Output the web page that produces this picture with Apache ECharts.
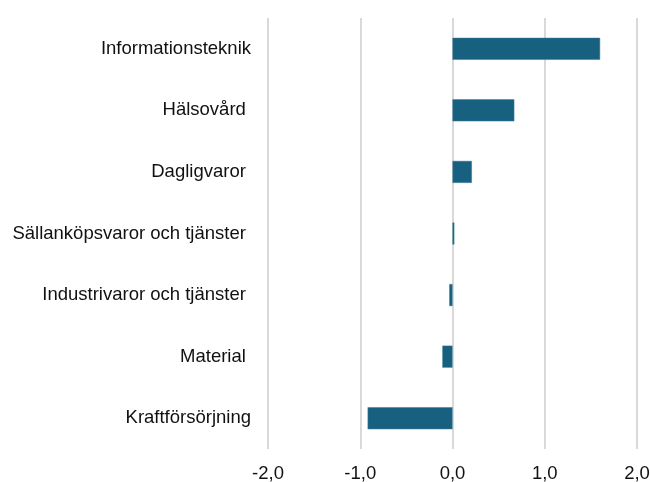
<!DOCTYPE html>
<html><head><meta charset="utf-8">
<script src="https://cdn.jsdelivr.net/npm/echarts@6/dist/echarts.min.js"></script>
<style>html,body{margin:0;padding:0;background:#fff}#c{width:650px;height:482px}</style>
</head><body><div id="c"></div>
<script>
var categories = ["Informationsteknik", "Hälsovård ", "Dagligvaror ", "Sällanköpsvaror och tjänster ", "Industrivaror och tjänster ", "Material ", "Kraftförsörjning"];
var values = [1.6, 0.67, 0.21, 0.02, -0.035, -0.11, -0.92];
var xTicks = [-2, -1, 0, 1, 2];

var chart = echarts.init(document.getElementById('c'), null, {renderer: 'canvas'});
chart.setOption({
  animation: false,
  grid: {left: 268, right: 13, top: 18, bottom: 33, containLabel: false, outerBoundsMode: 'none'},
  xAxis: {
    type: 'value', min: xTicks[0], max: xTicks[xTicks.length - 1], interval: 1,
    axisLine: {show: false}, axisTick: {show: false},
    splitLine: {show: true, lineStyle: {color: '#d9d9d9', width: 2}},
    axisLabel: {
      margin: 15, color: '#111', fontSize: 18.5, fontFamily: 'Liberation Sans, Arial',
      formatter: function (v) { return v.toFixed(1).replace('.', ','); }
    }
  },
  yAxis: {
    type: 'category', data: categories.slice().reverse(),
    axisLine: {show: false}, axisTick: {show: false},
    axisLabel: {margin: 17, color: '#111', fontSize: 18.5, fontFamily: 'Liberation Sans, Arial'}
  },
  series: [{
    type: 'bar', data: values.slice().reverse(), barWidth: 22,
    itemStyle: {color: '#17607f', borderColor: '#3b7c98', borderWidth: 0.5}
  }]
});
</script></body></html>
